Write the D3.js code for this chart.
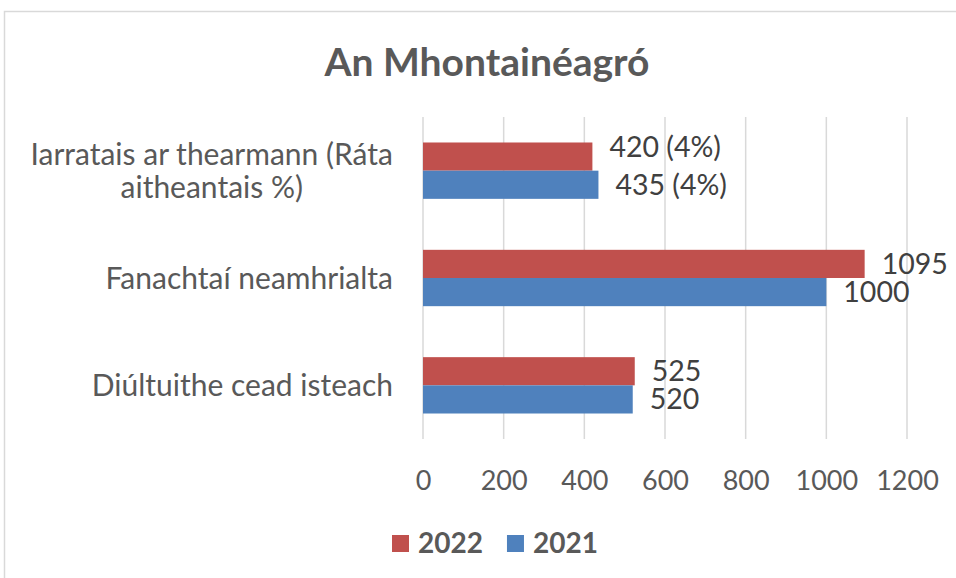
<!DOCTYPE html>
<html>
<head>
<meta charset="utf-8">
<script src="https://cdn.jsdelivr.net/npm/d3@7"></script>
<style>
  html, body { margin: 0; padding: 0; background: #fff; }
  svg { display: block; }
  text { font-family: Lato, "Open Sans", sans-serif; }
</style>
</head>
<body>
<svg id="chart" width="956" height="578"></svg>
<script>
// ---- data ----
const title = "An Mhontainéagró";
const categories = [
  "Iarratais ar thearmann (Ráta aitheantais %)",
  "Fanachtaí neamhrialta",
  "Diúltuithe cead isteach"
];
const categoryLines = [
  ["Iarratais ar thearmann (Ráta", "aitheantais %)"],
  ["Fanachtaí neamhrialta"],
  ["Diúltuithe cead isteach"]
];
const seriesNames = ["2022", "2021"];
const values2022 = [420, 1095, 525];
const values2021 = [435, 1000, 520];
const labels2022 = ["420 (4%)", "1095", "525"];
const labels2021 = ["435 (4%)", "1000", "520"];
const xTicks = [0, 200, 400, 600, 800, 1000, 1200];
const colors = { "2022": "#C0504D", "2021": "#4F81BD" };

// ---- build ----
const series = [
  { name: "2022", values: values2022, labels: labels2022 },
  { name: "2021", values: values2021, labels: labels2021 }
];

const svg = d3.select("#chart");
svg.append("rect").attr("width", 956).attr("height", 578).attr("fill", "#fff");
svg.append("rect")
  .attr("x", 4.5).attr("y", 11.5).attr("width", 980).attr("height", 600)
  .attr("fill", "none").attr("stroke", "#d9d9d9").attr("stroke-width", 1.5);

const plotTop = 117, plotBottom = 439;
const x = d3.scaleLinear().domain([0, 1200]).range([423, 907]);
const y = d3.scaleBand().domain(categories).range([plotTop, plotBottom])
  .paddingInner(0.475).paddingOuter(0.2375);
const ySub = d3.scaleBand().domain(seriesNames).range([0, y.bandwidth()]);

// title
svg.append("text")
  .attr("x", 487).attr("y", 62).attr("dy", "0.35em")
  .attr("text-anchor", "middle")
  .attr("font-size", 39).attr("font-weight", "bold").attr("fill", "#595959")
  .text(title);

// gridlines
svg.append("g").selectAll("line").data(xTicks).join("line")
  .attr("x1", d => x(d)).attr("x2", d => x(d))
  .attr("y1", plotTop).attr("y2", plotBottom)
  .attr("stroke", "#d9d9d9").attr("stroke-width", 1.5);

// x axis tick labels via d3 axis
const xAxis = d3.axisBottom(x).tickValues(xTicks).tickFormat(d3.format("d"))
  .tickSize(0).tickPadding(0);
const gx = svg.append("g").attr("transform", `translate(0,${plotBottom})`).call(xAxis);
gx.select(".domain").remove();
gx.selectAll("text")
  .attr("y", 42).attr("dy", "0.35em")
  .attr("font-family", "Lato, 'Open Sans', sans-serif")
  .attr("font-size", 27).attr("fill", "#595959");

// category labels
const catFs = 30;
const catG = svg.append("g");
categories.forEach((c, i) => {
  const lines = categoryLines[i];
  const cy = y(c) + y.bandwidth() / 2;
  if (lines.length === 1) {
    catG.append("text")
      .attr("x", 393).attr("y", cy).attr("dy", "0.35em")
      .attr("text-anchor", "end")
      .attr("font-size", catFs).attr("fill", "#595959")
      .text(lines[0]);
  } else {
    const t1 = catG.append("text")
      .attr("x", 393).attr("y", cy - 16).attr("dy", "0.35em")
      .attr("text-anchor", "end")
      .attr("font-size", catFs).attr("fill", "#595959")
      .text(lines[0]);
    const w = t1.node().getComputedTextLength();
    catG.append("text")
      .attr("x", 393 - w / 2).attr("y", cy + 17).attr("dy", "0.35em")
      .attr("text-anchor", "middle")
      .attr("font-size", catFs).attr("fill", "#595959")
      .text(lines[1]);
  }
});

// bars
const barG = svg.append("g");
series.forEach(s => {
  barG.selectAll(null).data(categories).join("rect")
    .attr("x", x(0))
    .attr("y", (c) => y(c) + ySub(s.name))
    .attr("width", (c, i) => x(s.values[i]) - x(0))
    .attr("height", ySub.bandwidth())
    .attr("fill", colors[s.name]);
});

// data labels
const lblG = svg.append("g");
series.forEach(s => {
  lblG.selectAll(null).data(categories).join("text")
    .attr("x", (c, i) => x(s.values[i]) + 17)
    .attr("y", (c, i) => {
      let cy = y(c) + ySub(s.name) + ySub.bandwidth() / 2;
      if (i === 0 && s.name === "2022") cy -= 10;
      return cy;
    })
    .attr("dy", "0.35em")
    .attr("font-size", 28.5).attr("fill", "#404040")
    .text((c, i) => s.labels[i]);
});

// legend
const legend = svg.append("g");
let lx = 392;
seriesNames.forEach(n => {
  legend.append("rect")
    .attr("x", lx).attr("y", 535).attr("width", 17).attr("height", 17)
    .attr("fill", colors[n]);
  const t = legend.append("text")
    .attr("x", lx + 26).attr("y", 543).attr("dy", "0.35em")
    .attr("font-size", 28).attr("font-weight", "bold").attr("fill", "#595959")
    .text(n);
  lx += 26 + t.node().getComputedTextLength() + 24;
});
</script>
</body>
</html>
